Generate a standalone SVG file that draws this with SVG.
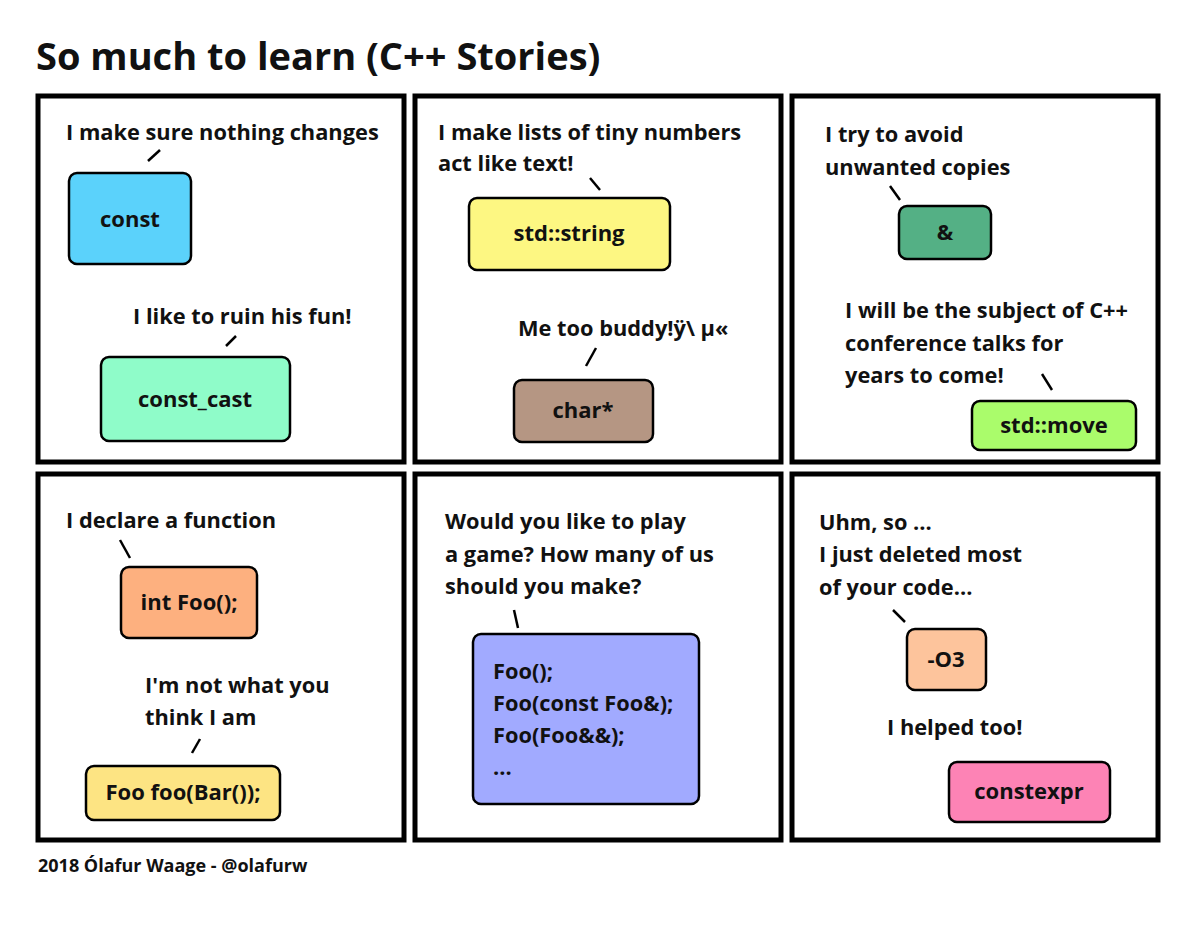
<svg xmlns="http://www.w3.org/2000/svg" width="1200" height="949" viewBox="0 0 1200 949">
<style>
text{font-family:"Open Sans","Noto Sans",sans-serif;font-weight:700;fill:#111}
.t{font-size:21.8px}
.b{font-size:22px;text-anchor:middle}
.p{fill:#fff;stroke:#000;stroke-width:5}
.n{stroke:#000;stroke-width:2.5}
.k{stroke:#000;stroke-width:2.5;fill:none}
</style>
<rect width="1200" height="949" fill="#fff"/>
<text x="36" y="70" style="font-size:38px">So much to learn (C++ Stories)</text>
<g id="panels">
<rect class="p" x="38" y="96" width="366" height="366"/>
<rect class="p" x="415" y="96" width="366" height="366"/>
<rect class="p" x="792" y="96" width="366" height="366"/>
<rect class="p" x="38" y="474" width="366" height="366"/>
<rect class="p" x="415" y="474" width="366" height="366"/>
<rect class="p" x="792" y="474" width="366" height="366"/>
</g>
<g id="connectors">
<line class="k" x1="148" y1="161" x2="160" y2="150"/>
<line class="k" x1="226" y1="346" x2="236" y2="336"/>
<line class="k" x1="590" y1="178" x2="600" y2="190"/>
<line class="k" x1="586" y1="366" x2="596" y2="348"/>
<line class="k" x1="890" y1="186" x2="900" y2="200"/>
<line class="k" x1="1042" y1="374" x2="1052" y2="390"/>
<line class="k" x1="120" y1="540" x2="130" y2="558"/>
<line class="k" x1="192" y1="753" x2="200" y2="739"/>
<line class="k" x1="514" y1="610" x2="518" y2="628"/>
<line class="k" x1="893" y1="610" x2="905" y2="622"/>
</g>
<g id="labels">
<text class="t" x="66" y="140">I make sure nothing changes</text>
<text class="t" x="133" y="324">I like to ruin his fun!</text>
<text class="t" x="438" y="140">I make lists of tiny numbers</text>
<text class="t" x="438" y="171">act like text!</text>
<text class="t" x="518" y="336">Me too buddy!ÿ\ µ«</text>
<text class="t" x="825" y="142">I try to avoid</text>
<text class="t" x="825" y="175">unwanted copies</text>
<text class="t" x="845" y="318">I will be the subject of C++</text>
<text class="t" x="845" y="351">conference talks for</text>
<text class="t" x="845" y="383">years to come!</text>
<text class="t" x="66" y="528">I declare a function</text>
<text class="t" x="145" y="693">I'm not what you</text>
<text class="t" x="145" y="725">think I am</text>
<text class="t" x="445" y="529">Would you like to play</text>
<text class="t" x="445" y="562">a game? How many of us</text>
<text class="t" x="445" y="594">should you make?</text>
<text class="t" x="819" y="530">Uhm, so ...</text>
<text class="t" x="819" y="562">I just deleted most</text>
<text class="t" x="819" y="595">of your code...</text>
<text class="t" x="887" y="735">I helped too!</text>
<text x="38" y="872" style="font-size:18px">2018 Ólafur Waage - @olafurw</text>
</g>
<g id="const"><rect class="n" x="69" y="173" width="122" height="91" rx="8" fill="#5bd2fb"/><text class="b" x="130" y="227">const</text></g>
<g id="const_cast"><rect class="n" x="101" y="357" width="189" height="84" rx="8" fill="#8ffcc9"/><text class="b" x="195" y="407">const_cast</text></g>
<g id="std_string"><rect class="n" x="469" y="198" width="201" height="72" rx="8" fill="#fdf782"/><text class="b" x="569" y="241">std::string</text></g>
<g id="char"><rect class="n" x="514" y="380" width="139" height="62" rx="8" fill="#b59683"/><text class="b" x="583" y="418">char*</text></g>
<g id="amp"><rect class="n" x="899" y="206" width="92" height="53" rx="8" fill="#54b085"/><text class="b" x="945" y="240">&amp;</text></g>
<g id="std_move"><rect class="n" x="972" y="401" width="164" height="49" rx="8" fill="#aafc6b"/><text class="b" x="1054" y="433">std::move</text></g>
<g id="int_foo"><rect class="n" x="121" y="567" width="136" height="71" rx="8" fill="#fdb07f"/><text class="b" x="189" y="610">int Foo();</text></g>
<g id="foo_bar"><rect class="n" x="86" y="766" width="194" height="54" rx="8" fill="#fde483"/><text class="b" x="183" y="800">Foo foo(Bar());</text></g>
<g id="ctors"><rect class="n" x="473" y="634" width="226" height="170" rx="8" fill="#a1aaff"/>
<text class="t" x="493" y="679">Foo();</text><text class="t" x="493" y="711">Foo(const Foo&amp;);</text><text class="t" x="493" y="743">Foo(Foo&amp;&amp;);</text><text class="t" x="493" y="775">...</text></g>
<g id="o3"><rect class="n" x="907" y="629" width="79" height="61" rx="8" fill="#fdc49c"/><text class="b" x="946" y="667">-O3</text></g>
<g id="constexpr"><rect class="n" x="949" y="762" width="161" height="60" rx="8" fill="#fd83b5"/><text class="b" x="1029" y="799">constexpr</text></g>
</svg>
